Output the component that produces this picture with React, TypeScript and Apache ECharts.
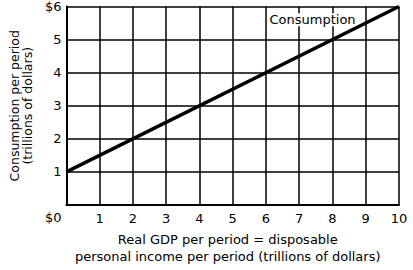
import React, { useEffect, useRef } from "react";
import * as echarts from "echarts";

const gdp = [0, 10];
const consumption = [1, 6];
const xTicks = ["$0", "1", "2", "3", "4", "5", "6", "7", "8", "9", "10"];
const lineLabel = "Consumption";
const xTitle = "Real GDP per period = disposable\npersonal income per period (trillions of dollars)";
const yTitle = "Consumption per period\n(trillions of dollars)";

export default function App() {
  const ref = useRef<HTMLDivElement>(null);
  useEffect(() => {
    const chart = echarts.init(ref.current!, null, { renderer: "svg" });
    const font = "DejaVu Sans";
    chart.setOption({
      animation: false,
      grid: { left: 66, right: 14, top: 6, bottom: 63 },
      xAxis: {
        type: "value",
        min: 0,
        max: 10,
        interval: 1,
        name: xTitle,
        nameLocation: "middle",
        nameGap: 26,
        nameTextStyle: { color: "#000", fontFamily: font, fontSize: 13, lineHeight: 17, padding: [0, 10, 0, 0] },
        axisLine: { lineStyle: { color: "#000", width: 2 } },
        axisTick: { show: false },
        splitLine: { lineStyle: { color: "#000", width: 1.5 } },
        axisLabel: {
          color: "#000",
          fontFamily: font,
          fontSize: 13,
          margin: 7,
          formatter: (v: number) => (v === 0 ? "" : xTicks[v]),
        },
      },
      yAxis: {
        type: "value",
        min: 0,
        max: 6,
        interval: 1,
        name: yTitle,
        nameLocation: "middle",
        nameGap: 32,
        nameTextStyle: { color: "#000", fontFamily: font, fontSize: 12.5, lineHeight: 13 },
        axisLine: { show: true, lineStyle: { color: "#000", width: 2 } },
        axisTick: { show: false },
        splitLine: { lineStyle: { color: "#000", width: 1.5 } },
        axisLabel: {
          color: "#000",
          fontFamily: font,
          fontSize: 13,
          margin: 5,
          formatter: (v: number) => (v === 6 ? "$6" : v === 0 ? "{z|" + xTicks[0] + "}" : String(v)),
          rich: { z: { fontFamily: font, fontSize: 13, color: "#000", padding: [24, 0, 0, 0] } },
        },
      },
      series: [
        {
          type: "line",
          data: gdp.map((g, i) => [g, consumption[i]]),
          symbol: "none",
          lineStyle: { color: "#000", width: 3.5 },
          markPoint: {
            symbol: "circle",
            symbolSize: 0,
            data: [{ coord: [7.4, 5.6] }],
            label: {
              show: true,
              position: "inside",
              formatter: lineLabel,
              color: "#000",
              fontFamily: font,
              fontSize: 13,
              backgroundColor: "#fff",
            },
          },
        },
      ],
    });
    return () => chart.dispose();
  }, []);
  return <div ref={ref} style={{ width: 413, height: 270, position: "absolute", left: 0, top: 0 }} />;
}
